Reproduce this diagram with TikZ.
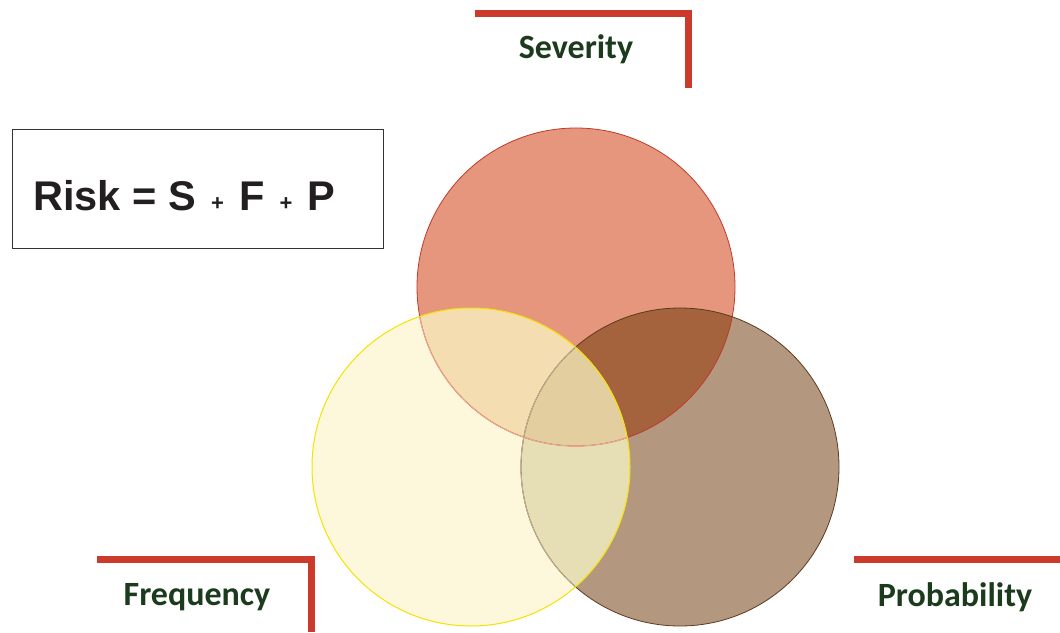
\documentclass[tikz,border=0pt]{standalone}
\usepackage{fontspec}
\setmainfont{Liberation Sans}
\newfontfamily\calibri{Carlito}
\definecolor{redonly}{HTML}{E5967D}
\definecolor{brownonly}{HTML}{B3977E}
\definecolor{yellowonly}{HTML}{FDF8DC}
\definecolor{redbrown}{HTML}{A5633D}
\definecolor{redyellow}{HTML}{F4DDB0}
\definecolor{yellowbrown}{HTML}{E6DFB6}
\definecolor{allthree}{HTML}{E2CE9F}
\definecolor{redline}{HTML}{C0392B}
\definecolor{brownline}{HTML}{5C3A1E}
\definecolor{yellowline}{HTML}{F5E200}
\definecolor{redfaded}{HTML}{E8A88A}
\definecolor{brownfaded}{HTML}{C2AE8E}
\definecolor{bracket}{HTML}{CB3A2A}
\definecolor{labeltext}{HTML}{1C3A1C}
\definecolor{boxline}{HTML}{333333}
\definecolor{risktext}{HTML}{231F20}
\tikzset{
  bracketline/.style={draw=bracket, line width=7pt},
  labelnode/.style={text=labeltext, font=\calibri\bfseries\fontsize{34}{40}\selectfont, inner sep=0pt},
}
\begin{document}
\begin{tikzpicture}[x=1pt,y=-1pt]
\useasboundingbox (0,0) rectangle (1060,632);
\def\RC{(576,287) circle[radius=159pt]}
\def\YC{(471,467) circle[radius=159pt]}
\def\BC{(680,467) circle[radius=159pt]}
% single-circle fills
\fill[redonly] \RC;
\fill[brownonly] \BC;
\fill[yellowonly] \YC;
% pairwise overlaps
\begin{scope}
  \clip \RC;
  \fill[redbrown] \BC;
  \fill[redyellow] \YC;
\end{scope}
\begin{scope}
  \clip \BC;
  \fill[yellowbrown] \YC;
\end{scope}
\begin{scope}
  \clip \RC;
  \clip \BC;
  \fill[allthree] \YC;
\end{scope}
% outlines
\draw[redline, line width=0.8pt] \RC;
\draw[brownline, line width=0.8pt] \BC;
\begin{scope}
  \clip \YC;
  \draw[redfaded, line width=1pt] \RC;
  \draw[brownfaded, line width=1pt] \BC;
\end{scope}
\draw[yellowline, line width=1pt] \YC;
% formula box
\node[draw=boxline, line width=1.8pt, minimum width=371pt, minimum height=119pt, anchor=north west, inner sep=0pt] (box) at (11.5,128.5) {};
\node[anchor=base west, inner sep=0pt, text=risktext, font=\bfseries\fontsize{41.5}{48}\selectfont] (formula) at (33,210)
  {Risk = S {\fontsize{22}{26}\selectfont\,+\,} F {\fontsize{22}{26}\selectfont\,+\,} P};
% brackets
\coordinate (s1) at (475,13.5);
\coordinate (s2) at (688.5,13.5);
\coordinate (s3) at (688.5,88);
\draw[bracketline] (s1) -- (s2) -- (s3);
\coordinate (f1) at (97,559.5);
\coordinate (f2) at (311.5,559.5);
\coordinate (f3) at (311.5,632);
\draw[bracketline] (f1) -- (f2) -- (f3);
\coordinate (p1) at (854,559.5);
\coordinate (p2) at (1060,559.5);
\draw[bracketline] (p1) -- (p2);
% labels
\node[labelnode] (sev) at (576,49) {Severity};
\node[labelnode] (freq) at (197,597) {Frequency};
\node[labelnode] (prob) at (955,597) {Probability};
\end{tikzpicture}
\end{document}
